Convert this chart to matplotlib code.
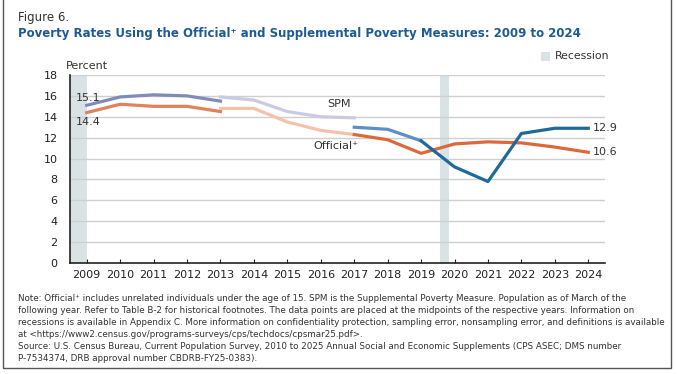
import matplotlib
matplotlib.use('Agg')
import matplotlib.pyplot as plt
from matplotlib.patches import Rectangle

# data (percent)
years_a = [2009, 2010, 2011, 2012, 2013]
spm_a = [15.1, 15.9, 16.1, 16.0, 15.5]
off_a = [14.4, 15.2, 15.0, 15.0, 14.5]

years_b = [2013, 2014, 2015, 2016, 2017]
spm_b = [15.9, 15.6, 14.5, 14.0, 13.9]
off_b = [14.8, 14.8, 13.5, 12.7, 12.3]

years_c = [2017, 2018, 2019]
spm_c = [13.0, 12.8, 11.7]

years_d = [2019, 2020, 2021, 2022, 2023, 2024]
spm_d = [11.7, 9.2, 7.8, 12.4, 12.9, 12.9]

years_e = [2017, 2018, 2019, 2020, 2021, 2022, 2023, 2024]
off_e = [12.3, 11.8, 10.5, 11.4, 11.6, 11.5, 11.1, 10.6]

recessions = [(2008.5, 2009.0), (2019.58, 2019.83)]
year_ticks = list(range(2009, 2025))
y_ticks = list(range(0, 19, 2))

W, H = 677, 374
fig = plt.figure(figsize=(W / 100, H / 100), dpi=100)
plt.rcParams['font.family'] = 'DejaVu Sans'

def px(x, y):
    return x / W, 1 - y / H

ax = fig.add_axes([70 / W, (H - 263) / H, (605 - 70) / W, (263 - 75) / H])
ax.set_xlim(2008.5, 2024.5)
ax.set_ylim(0, 18)

for a, b in recessions:
    ax.axvspan(a, b, color='#d9e3e5', lw=0, zorder=0)

for yv in y_ticks[1:]:
    ax.axhline(yv, color='#cfcfcf', lw=1, zorder=1)

lw = 2.3
ax.plot(years_a, spm_a, color='#7f8cbb', lw=lw, zorder=3)
ax.plot(years_a, off_a, color='#e0825a', lw=lw, zorder=3)
ax.plot(years_b, spm_b, color='#c8cbe3', lw=lw, zorder=3)
ax.plot(years_b, off_b, color='#f4c2aa', lw=lw, zorder=3)
ax.plot(years_c, spm_c, color='#5b8fcb', lw=lw, zorder=3)
ax.plot(years_e, off_e, color='#dc693c', lw=lw, zorder=3)
ax.plot(years_d, spm_d, color='#1f6a9a', lw=lw, zorder=4)

ax.set_xticks(year_ticks)
ax.set_xticklabels([str(y) for y in year_ticks])
ax.set_yticks(y_ticks)
ax.tick_params(axis='x', direction='in', length=3, width=0.8, labelsize=8,
               pad=5, colors='#222222')
ax.tick_params(axis='y', length=0, labelsize=8, pad=9, colors='#222222')
for s in ['top', 'right']:
    ax.spines[s].set_visible(False)
for s in ['left', 'bottom']:
    ax.spines[s].set_color('#222222')
    ax.spines[s].set_linewidth(1.2)

# value labels
ax.annotate(f"{spm_a[0]}", (years_a[0], spm_a[0]), xytext=(-8, 5), textcoords='offset points',
            fontsize=8, color='#333333', va='center')
ax.annotate(f"{off_a[0]}", (years_a[0], off_a[0]), xytext=(-8, -7), textcoords='offset points',
            fontsize=8, color='#333333', va='center')
ax.annotate(f"{spm_d[-1]}", (years_d[-1], spm_d[-1]), xytext=(3, 0), textcoords='offset points',
            fontsize=8, color='#333333', va='center')
ax.annotate(f"{off_e[-1]}", (years_e[-1], off_e[-1]), xytext=(3, 0), textcoords='offset points',
            fontsize=8, color='#333333', va='center')
ax.text(2016.53, 15.2, "SPM", fontsize=8, color='#333333', ha='center', va='center')
ax.text(2016.45, 11.2, "Official\u207a", fontsize=8, color='#333333', ha='center', va='center')

# header texts
fig.text(*px(18, 17), "Figure 6.", fontsize=8.5, color='#333333', va='center')
fig.text(*px(18, 33), "Poverty Rates Using the Official\u207a and Supplemental Poverty Measures: 2009 to 2024",
         fontsize=8.5, fontweight='bold', color='#1d5b97', va='center')
fig.text(*px(66, 66), "Percent", fontsize=8, color='#333333', va='center')
fig.patches.append(Rectangle(px(541, 61), 9 / W, 9 / H, transform=fig.transFigure,
                             color='#d9e3e5', lw=0))
fig.text(*px(555, 56), "Recession", fontsize=7.8, color='#333333', va='center')

note = ("Note: Official\u207a includes unrelated individuals under the age of 15. SPM is the Supplemental Poverty Measure. Population as of March of the\n"
        "following year. Refer to Table B-2 for historical footnotes. The data points are placed at the midpoints of the respective years. Information on\n"
        "recessions is available in Appendix C. More information on confidentiality protection, sampling error, nonsampling error, and definitions is available\n"
        "at <https://www2.census.gov/programs-surveys/cps/techdocs/cpsmar25.pdf>.\n"
        "Source: U.S. Census Bureau, Current Population Survey, 2010 to 2025 Annual Social and Economic Supplements (CPS ASEC; DMS number\n"
        "P-7534374, DRB approval number CBDRB-FY25-0383).")
fig.text(*px(18, 294), note, fontsize=6.3, color='#333333', va='top', linespacing=1.42)

# outer frame
fig.patches.append(Rectangle(px(3, 368), 668 / W, 380 / H, transform=fig.transFigure,
                             fill=False, edgecolor='#555555', lw=1))

fig.savefig('out.png', dpi=100)
